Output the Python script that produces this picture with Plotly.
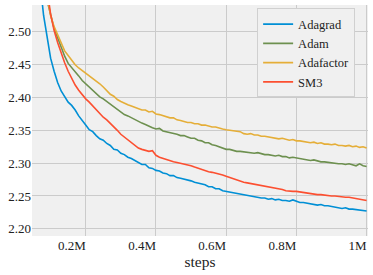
import plotly.graph_objects as go

steps_m = [0.05, 0.06, 0.07, 0.08, 0.09, 0.10, 0.11, 0.12, 0.13, 0.14,
           0.15, 0.16, 0.17, 0.18, 0.19, 0.20, 0.21, 0.22, 0.23, 0.24,
           0.25, 0.26, 0.27, 0.28, 0.29, 0.30, 0.31, 0.32, 0.33, 0.34,
           0.35, 0.36, 0.37, 0.38, 0.39, 0.40, 0.41, 0.42, 0.43, 0.44,
           0.45, 0.46, 0.47, 0.48, 0.49, 0.50, 0.51, 0.52, 0.53, 0.54,
           0.55, 0.56, 0.57, 0.58, 0.59, 0.60, 0.61, 0.62, 0.63, 0.64,
           0.65, 0.66, 0.67, 0.68, 0.69, 0.70, 0.71, 0.72, 0.73, 0.74,
           0.75, 0.76, 0.77, 0.78, 0.79, 0.80, 0.81, 0.82, 0.83, 0.84,
           0.85, 0.86, 0.87, 0.88, 0.89, 0.90, 0.91, 0.92, 0.93, 0.94,
           0.95, 0.96, 0.97, 0.98, 0.99, 1.00]

adagrad = [2.75, 2.66, 2.575, 2.525, 2.492, 2.460, 2.440, 2.423, 2.410, 2.401,
           2.393, 2.388, 2.381, 2.372, 2.364, 2.358, 2.351, 2.348, 2.342, 2.337,
           2.335, 2.330, 2.327, 2.321, 2.320, 2.315, 2.313, 2.309, 2.307, 2.304,
           2.302, 2.298, 2.298, 2.293, 2.292, 2.289, 2.288, 2.285, 2.284, 2.281,
           2.281, 2.278, 2.277, 2.276, 2.274, 2.273, 2.271, 2.270, 2.268, 2.267,
           2.264, 2.264, 2.261, 2.261, 2.258, 2.257, 2.256, 2.255, 2.253, 2.252,
           2.251, 2.250, 2.250, 2.248, 2.248, 2.247, 2.247, 2.245, 2.246, 2.244,
           2.245, 2.243, 2.243, 2.242, 2.244, 2.242, 2.240, 2.240, 2.239, 2.238,
           2.238, 2.236, 2.237, 2.235, 2.235, 2.234, 2.233, 2.233, 2.231, 2.232,
           2.230, 2.230, 2.229, 2.228, 2.228, 2.227]

adam = [2.90, 2.80, 2.70, 2.62, 2.548, 2.525, 2.505, 2.491, 2.476, 2.463,
        2.452, 2.446, 2.440, 2.433, 2.426, 2.421, 2.417, 2.411, 2.406, 2.401,
        2.398, 2.394, 2.390, 2.386, 2.381, 2.377, 2.374, 2.372, 2.369, 2.366,
        2.364, 2.361, 2.359, 2.356, 2.354, 2.352, 2.353, 2.349, 2.348, 2.346,
        2.345, 2.344, 2.342, 2.342, 2.340, 2.338, 2.338, 2.335, 2.334, 2.331,
        2.331, 2.328, 2.327, 2.325, 2.322, 2.321, 2.321, 2.319, 2.318, 2.318,
        2.317, 2.316, 2.316, 2.315, 2.316, 2.314, 2.313, 2.313, 2.312, 2.311,
        2.312, 2.310, 2.310, 2.308, 2.309, 2.308, 2.307, 2.306, 2.306, 2.304,
        2.305, 2.303, 2.302, 2.302, 2.301, 2.300, 2.300, 2.299, 2.299, 2.298,
        2.299, 2.297, 2.296, 2.299, 2.296, 2.295]

adafactor = [2.92, 2.82, 2.72, 2.63, 2.555, 2.525, 2.508, 2.495, 2.482, 2.471,
             2.464, 2.456, 2.450, 2.445, 2.441, 2.437, 2.434, 2.430, 2.425, 2.421,
             2.416, 2.411, 2.405, 2.402, 2.397, 2.394, 2.391, 2.389, 2.387, 2.385,
             2.384, 2.381, 2.381, 2.378, 2.379, 2.375, 2.374, 2.372, 2.371, 2.369,
             2.369, 2.366, 2.365, 2.363, 2.362, 2.362, 2.360, 2.360, 2.358, 2.358,
             2.356, 2.355, 2.355, 2.353, 2.352, 2.351, 2.350, 2.350, 2.349, 2.348,
             2.345, 2.344, 2.345, 2.343, 2.343, 2.341, 2.341, 2.340, 2.339, 2.339,
             2.337, 2.338, 2.336, 2.335, 2.336, 2.334, 2.334, 2.333, 2.333, 2.331,
             2.332, 2.330, 2.331, 2.329, 2.329, 2.328, 2.329, 2.327, 2.327, 2.326,
             2.327, 2.325, 2.326, 2.324, 2.325, 2.323]

sm3 = [2.95, 2.85, 2.74, 2.64, 2.565, 2.527, 2.502, 2.484, 2.468, 2.453,
       2.440, 2.429, 2.419, 2.411, 2.404, 2.398, 2.393, 2.387, 2.381, 2.375,
       2.370, 2.366, 2.361, 2.356, 2.350, 2.344, 2.340, 2.335, 2.331, 2.327,
       2.323, 2.321, 2.320, 2.318, 2.319, 2.312, 2.309, 2.307, 2.306, 2.304,
       2.302, 2.301, 2.300, 2.299, 2.297, 2.296, 2.294, 2.292, 2.290, 2.288,
       2.287, 2.286, 2.285, 2.283, 2.282, 2.280, 2.278, 2.276, 2.274, 2.273,
       2.271, 2.270, 2.269, 2.268, 2.267, 2.266, 2.266, 2.264, 2.263, 2.262,
       2.261, 2.260, 2.258, 2.257, 2.257, 2.257, 2.256, 2.256, 2.255, 2.254,
       2.253, 2.252, 2.252, 2.251, 2.251, 2.250, 2.250, 2.249, 2.249, 2.248,
       2.248, 2.247, 2.246, 2.245, 2.245, 2.243]

series_names = ["Adagrad", "Adam", "Adafactor", "SM3"]
series_values = [adagrad, adam, adafactor, sm3]
colors = ["#008fd5", "#6d904f", "#e5ae38", "#fc4f30"]

x_tickvals = [0.2, 0.4, 0.6, 0.8, 1.0]
x_ticktext = ["0.2M", "0.4M", "0.6M", "0.8M", "1M"]
y_tickvals = [2.20, 2.25, 2.30, 2.35, 2.40, 2.45, 2.50]
y_ticktext = ["2.20", "2.25", "2.30", "2.35", "2.40", "2.45", "2.50"]

fig = go.Figure()
for name, vals, c in zip(series_names, series_values, colors):
    fig.add_trace(go.Scatter(x=steps_m, y=vals, mode="lines", name=name,
                             line=dict(color=c, width=1.6)))

font_family = "Liberation Serif"
fig.update_layout(
    width=373, height=275,
    margin=dict(l=32, r=5, t=5, b=39, autoexpand=False),
    paper_bgcolor="white",
    plot_bgcolor="#f0f0f0",
    font=dict(family=font_family, size=13, color="#222222"),
    showlegend=True,
    legend=dict(x=0.67, y=0.985, xanchor="left", yanchor="top",
                bgcolor="#f0f0f0", bordercolor="#d0d0d0", borderwidth=1,
                font=dict(family=font_family, size=12.5, color="#222222"),
                tracegroupgap=0, itemwidth=30),
    xaxis=dict(range=[0.047, 1.004], tickvals=x_tickvals, ticktext=x_ticktext,
               showgrid=True, gridcolor="#cbcbcb", gridwidth=1, zeroline=False,
               showline=False, ticks="", tickfont=dict(family=font_family, size=13),
               ticklabelposition="outside left", automargin=False,
               title=dict(text="steps", font=dict(family=font_family, size=15.5), standoff=2)),
    yaxis=dict(range=[2.189, 2.541], tickvals=y_tickvals, ticktext=y_ticktext,
               showgrid=True, gridcolor="#cbcbcb", gridwidth=1, zeroline=False,
               showline=False, ticks="", tickfont=dict(family=font_family, size=13),
               automargin=False),
)

fig.write_html("out.html", config={"displayModeBar": False},
               post_script="document.body.style.margin='0';document.body.style.padding='0';")
